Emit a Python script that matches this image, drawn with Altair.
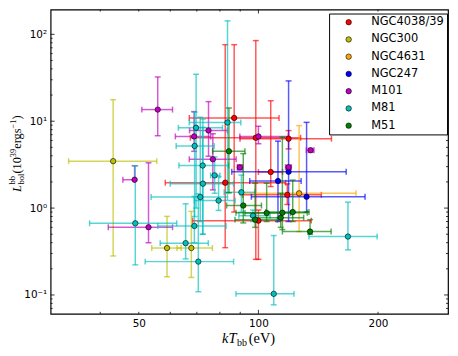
import altair as alt
import pandas as pd

galaxies = ["NGC4038/39", "NGC300", "NGC4631", "NGC247", "M101", "M81", "M51"]
colors = ["#ff0000", "#bfbf00", "#ffa500", "#0000ff", "#bf00bf", "#00bfbf", "#008000"]

src_galaxy = (["NGC4038/39"] * 7 + ["NGC300"] * 3 + ["NGC4631"] * 1 + ["NGC247"] * 3
              + ["M101"] * 10 + ["M81"] * 16 + ["M51"] * 8)
kt = [86.9, 82.5, 98.5, 119.1, 107.4, 118.2, 100.0,
      43.1, 58.9, 67.8,
      126.6,
      119.1, 112.0, 132.2,
      55.8, 48.8, 52.9, 68.9, 74.9, 76.8, 89.8, 100.0, 119.1, 135.3,
      49.0, 65.6, 69.0, 70.6, 69.7, 69.1, 72.4, 72.5, 71.4, 77.6, 79.4, 83.6, 90.6, 96.9, 109.3, 168.0,
      84.3, 91.6, 98.1, 104.9, 113.8, 114.9, 122.0, 134.9]
kt_lo = [67.0, 58.3, 67.4, 89.9, 100.0, 91.2, 68.3,
         33.3, 53.9, 62.4,
         90.0,
         85.7, 95.1, 96.0,
         50.9, 45.6, 41.9, 61.8, 67.1, 67.0, 88.5, 89.8, 117.0, 132.0,
         37.6, 56.6, 55.8, 51.9, 62.9, 62.1, 63.1, 60.0, 53.7, 75.8, 69.0, 67.0, 82.0, 89.3, 87.8, 134.0,
         76.7, 83.2, 87.3, 92.5, 97.5, 87.8, 104.4, 114.9]
kt_hi = [112.7, 117.1, 127.7, 152.7, 115.0, 144.0, 135.8,
         55.5, 63.9, 76.6,
         176.0,
         166.3, 128.1, 185.5,
         60.8, 48.8, 60.8, 75.9, 83.6, 87.9, 91.2, 119.0, 121.0, 138.0,
         62.3, 74.8, 82.9, 86.6, 81.2, 77.4, 84.1, 86.6, 83.6, 80.0, 87.4, 90.3, 98.0, 107.0, 122.9, 199.0,
         92.5, 101.8, 111.6, 120.5, 130.0, 132.7, 134.0, 152.4]
lum = [10.9, 1.96, 6.45, 6.29, 2.60, 1.42, 0.717,
       3.47, 0.347, 0.347,
       1.48,
       2.62, 2.05, 1.35,
       13.6, 2.12, 0.602, 6.68, 7.83, 3.65, 2.94, 6.68, 2.96, 4.63,
       0.668, 0.395, 0.623, 0.242, 8.40, 5.19, 3.09, 1.91, 1.34, 2.38, 1.22, 9.66, 1.52, 0.818, 0.103, 0.47,
       4.51, 1.07, 0.736, 0.877, 0.776, 0.884, 0.90, 0.537]
lum_lo = [0.9, 0.35, 0.257, 4.8, 1.77, 1.1, 0.257,
          0.281, 0.162, 0.159,
          0.537,
          0.70, 0.70, 0.90,
          6.8, 2.12, 0.399, 4.5, 3.95, 1.62, 2.75, 5.5, 2.8, 4.4,
          0.222, 0.26, 0.40, 0.109, 1.0, 0.8, 0.5, 0.5, 0.7, 1.48, 0.94, 1.5, 0.9, 0.7, 0.077, 0.33,
          1.5, 0.675, 0.6, 0.7, 0.6, 0.566, 0.7, 0.5]
lum_hi = [76.0, 76.0, 84.7, 7.8, 17.2, 1.9, 0.95,
          17.7, 0.803, 0.916,
          8.9,
          29.1, 5.9, 9.7,
          32.3, 3.07, 3.32, 12.9, 16.8, 7.17, 3.15, 8.75, 3.1, 4.85,
          3.07, 1.12, 1.36, 1.46, 34.7, 12.7, 8.5, 10.6, 11.1, 3.88, 2.3, 143.0, 2.4, 0.95, 0.483, 1.17,
          14.2, 4.24, 1.93, 1.93, 1.48, 6.57, 2.1, 0.736]

x_major = [100]
x_minor = [40, 50, 60, 70, 80, 90, 200]
x_labels = [50, 100, 200]
y_major = [0.1, 1, 10, 100]
y_minor = [0.07, 0.08, 0.09, 0.2, 0.3, 0.4, 0.5, 0.6, 0.7, 0.8, 0.9,
           2, 3, 4, 5, 6, 7, 8, 9, 20, 30, 40, 50, 60, 70, 80, 90]

df = pd.DataFrame({"galaxy": src_galaxy, "kt": kt, "kt_lo": kt_lo, "kt_hi": kt_hi,
                   "lum": lum, "lum_lo": lum_lo, "lum_hi": lum_hi})

W, H = 401, 307
xscale = alt.Scale(type="log", domain=[30, 300], nice=False)
yscale = alt.Scale(type="log", domain=[0.0607, 192.8], nice=False)
xaxis = alt.Axis(values=x_labels, format="d", title=None, ticks=False, tickSize=0, domain=False,
                 grid=False, labelFontSize=10.5, labelFont="DejaVu Sans", labelColor="black",
                 labelPadding=5)
yaxis = alt.Axis(values=y_major, title=None, ticks=False, tickSize=0, domain=False, grid=False,
                 labelFontSize=10.5, labelFont="DejaVu Sans", labelColor="black", labelPadding=4,
                 labelExpr="datum.value < 0.5 ? '10⁻¹' : datum.value < 5 ? '10⁰' : datum.value < 50 ? '10¹' : '10²'")


def X(f):
    return alt.X(f, type="quantitative", scale=xscale, axis=xaxis)


def Y(f):
    return alt.Y(f, type="quantitative", scale=yscale, axis=yaxis)


col_lg = alt.Color("galaxy:N", scale=alt.Scale(domain=galaxies, range=colors), legend=alt.Legend(
    orient="none", legendX=281, legendY=4, title=None, fillColor="white", strokeColor="black",
    padding=3, symbolType="circle", symbolSize=30, symbolStrokeColor="black", symbolStrokeWidth=0.6,
    labelFont="DejaVu Sans", labelFontSize=11.5, labelColor="black", rowPadding=4.4,
    labelOffset=17, symbolOffset=11, cornerRadius=0))

base = alt.Chart(df)
bar_op = 0.65
bw = 1.5
layers = []
for g, c in zip(galaxies, colors):
    s = base.transform_filter(alt.datum.galaxy == g)
    layers += [
        s.mark_rule(strokeWidth=bw, opacity=bar_op, color=c).encode(x=X("kt_lo"), x2="kt_hi", y=Y("lum")),
        s.mark_rule(strokeWidth=bw, opacity=bar_op, color=c).encode(x=X("kt"), y=Y("lum_lo"), y2="lum_hi"),
        s.mark_tick(orient="vertical", size=6, thickness=bw, opacity=bar_op, color=c).encode(x=X("kt_lo"), y=Y("lum")),
        s.mark_tick(orient="vertical", size=6, thickness=bw, opacity=bar_op, color=c).encode(x=X("kt_hi"), y=Y("lum")),
        s.mark_tick(orient="horizontal", size=6, thickness=bw, opacity=bar_op, color=c).encode(x=X("kt"), y=Y("lum_lo")),
        s.mark_tick(orient="horizontal", size=6, thickness=bw, opacity=bar_op, color=c).encode(x=X("kt"), y=Y("lum_hi")),
    ]
layers.append(base.mark_circle(size=30, opacity=1, stroke="black", strokeWidth=0.6).encode(
    x=X("kt"), y=Y("lum"), color=col_lg))

# inward ticks on all four sides
for vals, ln in ((x_major, 4), (x_minor, 2)):
    d = alt.Chart(pd.DataFrame({"v": vals}))
    layers.append(d.mark_rule(color="black", strokeWidth=0.8).encode(x=X("v"), y=alt.value(H), y2=alt.value(H - ln)))
    layers.append(d.mark_rule(color="black", strokeWidth=0.8).encode(x=X("v"), y=alt.value(0), y2=alt.value(ln)))
for vals, ln in ((y_major, 4), (y_minor, 2)):
    d = alt.Chart(pd.DataFrame({"v": vals}))
    layers.append(d.mark_rule(color="black", strokeWidth=0.8).encode(y=Y("v"), x=alt.value(0), x2=alt.value(ln)))
    layers.append(d.mark_rule(color="black", strokeWidth=0.8).encode(y=Y("v"), x=alt.value(W), x2=alt.value(W - ln)))

# axis titles with sub/superscripts
tdf = alt.Chart(pd.DataFrame({"a": [0]}))
serif = "Liberation Serif"


def txt(t, x, y, size, italic=False, angle=0):
    return tdf.mark_text(text=t, font=serif, fontSize=size, fontStyle="italic" if italic else "normal",
                         align="left", baseline="alphabetic", angle=angle, color="black").encode(
        x=alt.value(x), y=alt.value(y))


layers += [
    txt("kT", 173, 336, 14.5, italic=True),
    txt("bb", 188, 339, 10),
    txt("(eV)", 200, 336, 14.5),
]
yb = -30
layers += [
    txt("L", yb, 184, 12.5, italic=True, angle=270),
    txt("bol", yb + 3, 176.5, 8.5, angle=270),
    txt("bb", yb - 6, 176.5, 8.5, angle=270),
    txt("(10", yb, 165.5, 12.5, angle=270),
    txt("39", yb - 5, 149, 8.5, angle=270),
    txt("ergs", yb, 140.5, 12.5, angle=270),
    txt("−1", yb - 5, 120, 8.5, angle=270),
    txt(")", yb, 111, 12.5, angle=270),
]

chart = alt.layer(*layers).properties(
    width=W, height=H,
    autosize=alt.AutoSizeParams(type="none"),
    padding={"left": 43, "top": 0, "right": 2, "bottom": 40},
).configure_view(stroke="black", strokeWidth=1.2)

chart.save("out.html", embed_options={"renderer": "svg", "actions": False})
